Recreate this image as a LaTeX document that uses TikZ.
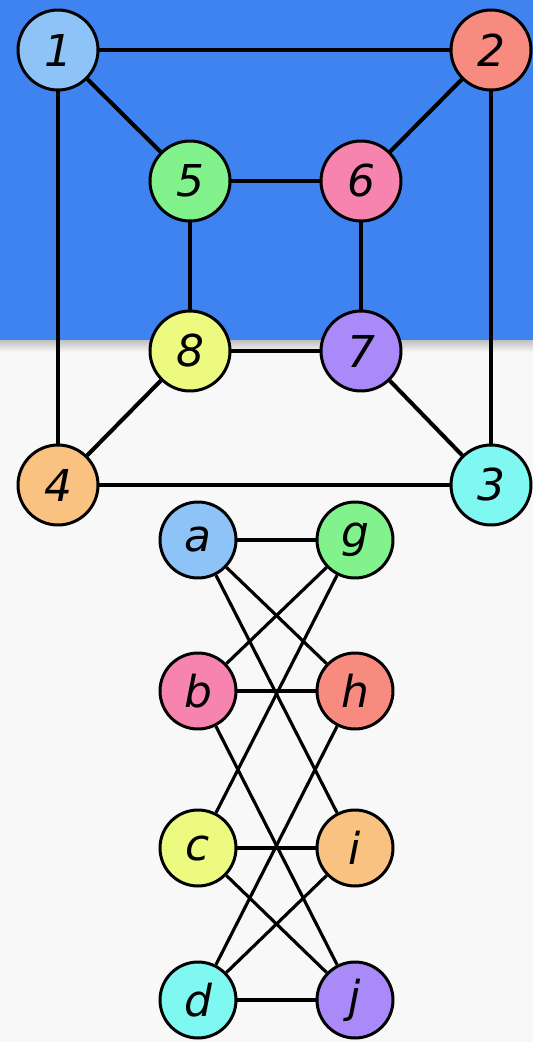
\documentclass[tikz,border=0pt]{standalone}
\usepackage{fontspec}
\setsansfont{DejaVu Sans}
\usetikzlibrary{arrows}

\definecolor{band}{HTML}{3F83F1}
\definecolor{paper}{HTML}{F8F8F8}
\definecolor{vblue}{HTML}{8EC3F7}
\definecolor{vsalmon}{HTML}{F88B80}
\definecolor{vgreen}{HTML}{82F38C}
\definecolor{vpink}{HTML}{F784AE}
\definecolor{vyellow}{HTML}{EDFA80}
\definecolor{vpurple}{HTML}{A98AF8}
\definecolor{vorange}{HTML}{FAC281}
\definecolor{vcyan}{HTML}{80F8F2}

\begin{document}
\begin{tikzpicture}[x=0.02cm,y=-0.02cm, every node/.style={font=\sffamily\itshape\fontsize{25}{30}\selectfont},
    vert/.style={circle,draw,line width=1.7pt,inner sep=0,minimum size=1.6cm},
    small/.style={vert,minimum size=1.52cm},
    edge/.style={line width=2.3pt},
    thin/.style={line width=1.8pt}]

        %===========================
        % Background
        %===========================

        \useasboundingbox (0,0) rectangle (533,1042);
        \fill[paper] (0,0) rectangle (533,1042);
        \shade[top color=black!25, bottom color=paper] (0,340) rectangle (533,352);
        \fill[band] (0,0) rectangle (533,340);

        %===========================
        % Cube
        %===========================

        \draw node (V1) at (58,50) [vert,fill=vblue]{1};
        \draw node (V2) at (491,50) [vert,fill=vsalmon]{2};
        \draw node (V5) at (190,181) [vert,fill=vgreen]{5};
        \draw node (V6) at (361,181) [vert,fill=vpink]{6};
        \draw node (V8) at (190,351) [vert,fill=vyellow]{8};
        \draw node (V7) at (361,351) [vert,fill=vpurple]{7};
        \draw node (V4) at (58,485) [vert,fill=vorange]{4};
        \draw node (V3) at (491,485) [vert,fill=vcyan]{3};

        % outer square
        \draw[edge] (V1) to (V2);
        \draw[edge] (V2) to (V3);
        \draw[edge] (V3) to (V4);
        \draw[edge] (V4) to (V1);

        % inner square
        \draw[edge] (V5) to (V6);
        \draw[edge] (V6) to (V7);
        \draw[edge] (V7) to (V8);
        \draw[edge] (V8) to (V5);

        % spokes
        \draw[edge] (V1) to (V5);
        \draw[edge] (V2) to (V6);
        \draw[edge] (V3) to (V7);
        \draw[edge] (V4) to (V8);

        %===========================
        % Bipartite layout
        %===========================

        \draw node (A) at (198,540) [small,fill=vblue]{a};
        \draw node (B) at (198,691) [small,fill=vpink]{b};
        \draw node (C) at (198,848) [small,fill=vyellow]{c};
        \draw node (D) at (198,1000) [small,fill=vcyan]{d};
        \draw node (G) at (355,540) [small,fill=vgreen]{g};
        \draw node (H) at (355,691) [small,fill=vsalmon]{h};
        \draw node (I) at (355,848) [small,fill=vorange]{i};
        \draw node (J) at (355,1000) [small,fill=vpurple]{j};

        \foreach \u/\v in {A/G,A/H,A/I,B/G,B/H,B/J,C/G,C/I,C/J,D/H,D/I,D/J}
            \draw[thin] (\u) to (\v);

    \end{tikzpicture}
\end{document}
